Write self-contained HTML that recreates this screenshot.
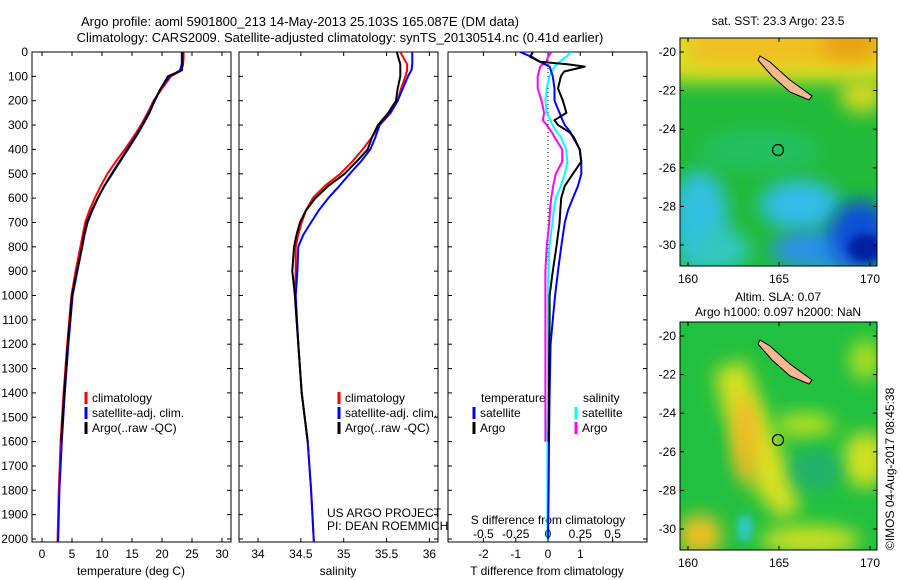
<!DOCTYPE html>
<html><head><meta charset="utf-8"><style>
body{margin:0;background:#fff;}
svg{display:block;font-family:"Liberation Sans",sans-serif;}
</style></head><body>
<svg id="fig" width="900" height="580" viewBox="0 0 900 580">
<defs>
<filter id="bl" x="-50%" y="-50%" width="200%" height="200%"><feGaussianBlur stdDeviation="9"/></filter>
<filter id="bs" x="-50%" y="-50%" width="200%" height="200%"><feGaussianBlur stdDeviation="4"/></filter>
<clipPath id="c1"><rect x="680" y="38" width="197" height="228"/></clipPath>
<clipPath id="c2"><rect x="680" y="322" width="197" height="228"/></clipPath>
<clipPath id="p1"><rect x="32" y="52" width="199" height="490"/></clipPath>
<clipPath id="p2"><rect x="239" y="52" width="199" height="490"/></clipPath>
<clipPath id="p3"><rect x="448" y="52" width="199" height="490"/></clipPath>
</defs>
<text x="300" y="26" font-size="13" text-anchor="middle">Argo profile: aoml 5901800_213 14-May-2013 25.103S 165.087E (DM data)</text>
<text x="340" y="42" font-size="13" text-anchor="middle">Climatology: CARS2009. Satellite-adjusted climatology: synTS_20130514.nc (0.41d earlier)</text>
<g id="axes"></g>
<g id="series"></g>

<g clip-path="url(#c1)">
<rect x="680" y="38" width="197" height="228" fill="#22bb3a"/>
<rect x="660" y="20" width="240" height="62" fill="#d8e020" filter="url(#bl)"/>
<rect x="690" y="28" width="190" height="38" fill="#f0c020" filter="url(#bl)"/>
<ellipse cx="850" cy="45" rx="30" ry="14" fill="#e8a010" filter="url(#bl)"/>
<ellipse cx="862" cy="95" rx="22" ry="18" fill="#d0d820" filter="url(#bl)"/>
<ellipse cx="760" cy="150" rx="60" ry="20" fill="#20c060" filter="url(#bl)"/>
<ellipse cx="700" cy="220" rx="28" ry="50" fill="#30c0e0" filter="url(#bl)"/>
<ellipse cx="720" cy="250" rx="30" ry="20" fill="#30c8c0" filter="url(#bl)"/>
<ellipse cx="800" cy="205" rx="40" ry="25" fill="#30bce8" filter="url(#bl)"/>
<ellipse cx="820" cy="250" rx="50" ry="20" fill="#2a90e8" filter="url(#bl)"/>
<ellipse cx="860" cy="235" rx="30" ry="35" fill="#1050d8" filter="url(#bl)"/>
<ellipse cx="866" cy="248" rx="18" ry="14" fill="#0020a0" filter="url(#bs)"/>
<polygon points="760,56 770,62 790,80 812,96 809,100 790,92 772,76 758,60" fill="#f5b890" stroke="#000" stroke-width="1"/>
<circle cx="778" cy="150" r="5.5" fill="none" stroke="#000" stroke-width="1.2"/>
</g>
<rect x="680" y="38" width="197" height="228" fill="none" stroke="#000"/>
<text x="778" y="25" font-size="12" text-anchor="middle">sat. SST: 23.3 Argo: 23.5</text>

<g clip-path="url(#c2)">
<rect x="680" y="322" width="197" height="228" fill="#22c040"/>
<polygon points="715,370 745,360 760,400 790,470 800,510 780,520 755,490 735,440 720,400" fill="#d8e020" filter="url(#bl)"/>
<ellipse cx="745" cy="440" rx="12" ry="45" fill="#f0b828" filter="url(#bl)"/>
<ellipse cx="700" cy="535" rx="22" ry="20" fill="#f0c020" filter="url(#bl)"/>
<ellipse cx="805" cy="425" rx="30" ry="12" fill="#b8e020" filter="url(#bl)"/>
<ellipse cx="865" cy="460" rx="22" ry="28" fill="#d0e020" filter="url(#bl)"/>
<ellipse cx="865" cy="360" rx="15" ry="20" fill="#b0e020" filter="url(#bl)"/>
<ellipse cx="810" cy="540" rx="50" ry="14" fill="#d0e020" filter="url(#bl)"/>
<ellipse cx="815" cy="470" rx="25" ry="20" fill="#20b070" filter="url(#bl)"/>
<ellipse cx="745" cy="528" rx="8" ry="14" fill="#30c8c0" filter="url(#bs)"/>
<polygon points="760,340 770,346 790,364 812,380 809,384 790,376 772,360 758,344" fill="#f5b890" stroke="#000" stroke-width="1"/>
<circle cx="778" cy="440" r="5.5" fill="none" stroke="#000" stroke-width="1.2"/>
</g>
<rect x="680" y="322" width="197" height="228" fill="none" stroke="#000"/>
<text x="778" y="301" font-size="12" text-anchor="middle">Altim. SLA: 0.07</text>
<text x="778" y="316" font-size="12" text-anchor="middle">Argo h1000: 0.097 h2000: NaN</text>
<text transform="translate(894,550) rotate(-90)" font-size="12">©IMOS 04-Aug-2017 08:45:38</text>
<g id="maptx"></g>
</svg>
<script>
// ---- data ----
const depths = [0,25,50,75,100,150,200,250,300,350,400,450,500,550,600,650,700,750,800,900,1000,1200,1400,1600,1800,2000,2050];
const tempClim = [23.6,23.6,23.5,23.3,21.5,20.0,18.6,17.6,16.5,15.2,13.8,12.3,10.9,9.8,8.8,7.9,7.2,6.8,6.4,5.6,4.9,4.2,3.6,3.1,2.8,2.6,2.5];
const tempSat  = [23.3,23.3,23.3,23.0,21.3,19.8,18.7,17.8,16.7,15.5,14.2,12.9,11.6,10.4,9.3,8.4,7.6,7.1,6.7,5.9,5.1,4.4,3.8,3.3,2.9,2.7,2.6];
const tempArgo = [23.4,23.4,23.4,23.3,21.0,19.8,18.8,17.9,16.8,15.6,14.3,13.0,11.7,10.4,9.3,8.3,7.5,7.0,6.7,5.8,5.0,4.3,3.7,3.2];
const salClim = [35.66,35.70,35.74,35.74,35.72,35.67,35.63,35.55,35.42,35.33,35.22,35.10,34.96,34.78,34.64,34.56,34.51,34.47,34.44,34.44,34.43,34.47,34.51,34.58,34.62,34.65,34.66];
const salSat  = [35.80,35.80,35.80,35.79,35.75,35.69,35.63,35.54,35.42,35.37,35.31,35.20,35.07,34.95,34.82,34.71,34.62,34.53,34.47,34.46,34.44,34.47,34.51,34.58,34.62,34.65,34.66];
const salArgo = [35.62,35.64,35.66,35.66,35.66,35.63,35.61,35.52,35.40,35.33,35.28,35.15,35.01,34.82,34.67,34.56,34.49,34.45,34.42,34.40,34.43,34.47,34.51,34.58];
const dDepths = [0,20,40,50,60,80,100,150,200,250,280,300,330,350,400,450,500,550,600,650,700,800,900,1000,1100,1200,1400,1600,1800,2000];
const tdSat  = [-0.87,-0.5,-0.25,-0.1,0.05,0.1,0.15,0.2,0.2,0.36,0.45,0.52,0.7,0.77,0.98,1.03,1.03,0.93,0.77,0.62,0.52,0.41,0.31,0.22,0.15,0.08,0.05,0.03,0.02,0.0];
const tdArgo = [-0.47,-0.55,-0.25,0.6,1.14,0.5,0.4,0.31,0.46,0.57,0.2,0.31,0.67,0.8,0.98,1.03,0.77,0.52,0.41,0.38,0.36,0.26,0.15,0.05,0.05,0.04,0.03,0.02];
const sdSat  = [0.18,0.14,0.09,0.07,0.05,0.03,0.01,-0.01,-0.02,-0.01,0.02,0.035,0.07,0.1,0.14,0.15,0.13,0.1,0.06,0.045,0.035,0.01,0.005,0.0,0.0,0.0,0.0,-0.005,-0.005,-0.005];
const sdArgo = [0.026,0.0,-0.013,-0.04,-0.06,-0.07,-0.08,-0.08,-0.05,-0.03,-0.04,-0.01,0.03,0.05,0.11,0.11,0.06,0.04,0.025,0.015,0.01,-0.01,-0.02,-0.02,-0.02,-0.02,-0.02,-0.02];
const depthTicks = [0,100,200,300,400,500,600,700,800,900,1000,1100,1200,1300,1400,1500,1600,1700,1800,1900,2000];
const tempTicks = [0,5,10,15,20,25,30];
const salTicks = [34,34.5,35,35.5,36];
const tdTicks = [-2,-1,0,1,2];
const tdLabels = ["-2","-1","0","1",""];
const sdTicks = [-0.5,-0.25,0,0.25,0.5];
const latTicks = [-20,-22,-24,-26,-28,-30];
const lonTicks = [160,165,170];

// ---- scales ----
const yD = d => 52 + d*0.2435;
const xT = t => 42 + t*6;
const xS = s => 258 + (s-34)*85.7;
const xTD = v => 548 + v*32.3;
const xSD = v => 548 + v*129.2;
const NS='http://www.w3.org/2000/svg';
const ax=document.getElementById('axes'), se=document.getElementById('series'), mt=document.getElementById('maptx');
function mk(tag, attrs, parent){const e=document.createElementNS(NS,tag);for(const k in attrs)e.setAttribute(k,attrs[k]);parent.appendChild(e);return e;}
function txt(x,y,s,anchor,parent,size){const t=mk('text',{x:x,y:y,'font-size':size||12,'text-anchor':anchor||'middle'},parent);t.textContent=s;return t;}

const panels=[{x:32,clip:'p1',name:'temperature-panel'},{x:239,clip:'p2',name:'salinity-panel'},{x:448,clip:'p3',name:'difference-panel'}];
panels.forEach(p=>{
  const r=mk('rect',{x:p.x,y:52,width:199,height:490,fill:'none',stroke:'#000'},ax);
  
  
  depthTicks.forEach(d=>{
    mk('line',{x1:p.x,x2:p.x+4,y1:yD(d),y2:yD(d),stroke:'#000'},ax);
    mk('line',{x1:p.x+195,x2:p.x+199,y1:yD(d),y2:yD(d),stroke:'#000'},ax);
  });
});
depthTicks.forEach(d=>{
  const t=txt(28,yD(d)+4,String(d),'end',ax);
  
  
});
function xticks(ticks,labels,fx,top,ly){
  ticks.forEach((v,i)=>{
    const x=fx(v);
    mk('line',{x1:x,x2:x,y1:542,y2:538,stroke:'#000'},ax);
    if(top) mk('line',{x1:x,x2:x,y1:52,y2:56,stroke:'#000'},ax);
    if(labels[i]!==''){const t=txt(x,ly,labels[i],'middle',ax);
      
      }
  });
}
xticks(tempTicks,tempTicks.map(String),xT,true,558);
xticks(salTicks,salTicks.map(String),xS,true,558);
xticks(tdTicks,tdLabels,xTD,true,558);
sdTicks.forEach(v=>{const t=txt(xSD(v),538,String(v),'middle',ax);
  
  });
[[131,'temperature (deg C)','temperature-axis-title'],[338,'salinity','salinity-axis-title'],[547,'T difference from climatology','t-diff-axis-title']].forEach(a=>{
  const t=txt(a[0],575,a[1],'middle',ax);
  
  
});
{const t=txt(548,524,'S difference from climatology','middle',ax);

}
{const t=txt(327,517,'US ARGO PROJECT','start',ax);}
{const t=txt(327,530,'PI: DEAN ROEMMICH','start',ax);}

{const l=mk('line',{x1:xTD(0),x2:xTD(0),y1:yD(0),y2:yD(2000),stroke:'#000','stroke-dasharray':'1,3'},se);

}

function series(vals,dep,fx,color,clip,name,w){
  const pts=vals.map((v,i)=>fx(v).toFixed(1)+','+yD(dep[i]).toFixed(1)).join(' ');
  const pl=mk('polyline',{points:pts,fill:'none',stroke:color,'stroke-width':w||2,'stroke-linejoin':'round','clip-path':'url(#'+clip+')'},se);
  
  
}
series(tempClim,depths,xT,'#f00','p1','temp-climatology-line');
series(tempSat,depths,xT,'#00f','p1','temp-satellite-line');
series(tempArgo,depths,xT,'#000','p1','temp-argo-line');
series(salClim,depths,xS,'#f00','p2','sal-climatology-line');
series(salSat,depths,xS,'#00f','p2','sal-satellite-line');
series(salArgo,depths,xS,'#000','p2','sal-argo-line');
series(sdArgo,dDepths,xSD,'#f0f','p3','s-diff-argo-line');
series(sdSat,dDepths,xSD,'#0ff','p3','s-diff-satellite-line');
series(tdSat,dDepths,xTD,'#00f','p3','t-diff-satellite-line');
series(tdArgo,dDepths,xTD,'#000','p3','t-diff-argo-line');

function legend(x,y,items){
  items.forEach((it,i)=>{
    mk('line',{x1:x,x2:x,y1:y+i*15-10,y2:y+i*15+2,stroke:it[1],'stroke-width':3},ax);
    const t=txt(x+6,y+i*15,it[0],'start',ax);
    
    
  });
}
const L=[['climatology','#f00'],['satellite-adj. clim.','#00f'],['Argo(..raw -QC)','#000']];
legend(86,402,L); legend(339,402,L);
{const t=txt(481,402,'temperature','start',ax);}
{const t=txt(583,402,'salinity','start',ax);}
legend(474,417,[['satellite','#00f'],['Argo','#000']]);
legend(576,417,[['satellite','#0ff'],['Argo','#f0f']]);

const mLat=(v,top)=>top+14+(-20-v)*19.3;
const mLon=v=>688+(v-160)*18.2;
[38,322].forEach(top=>{
  latTicks.forEach(v=>{const y=mLat(v,top);
    mk('line',{x1:680,x2:684,y1:y,y2:y,stroke:'#000'},mt);mk('line',{x1:873,x2:877,y1:y,y2:y,stroke:'#000'},mt);
    const t=txt(676,y+4,String(v),'end',mt);});
  lonTicks.forEach(v=>{const x=mLon(v);
    mk('line',{x1:x,x2:x,y1:top,y2:top+4,stroke:'#000'},mt);mk('line',{x1:x,x2:x,y1:top+224,y2:top+228,stroke:'#000'},mt);
    const t=txt(x,top+245,String(v),'middle',mt);});
});
</script>
</body></html>
